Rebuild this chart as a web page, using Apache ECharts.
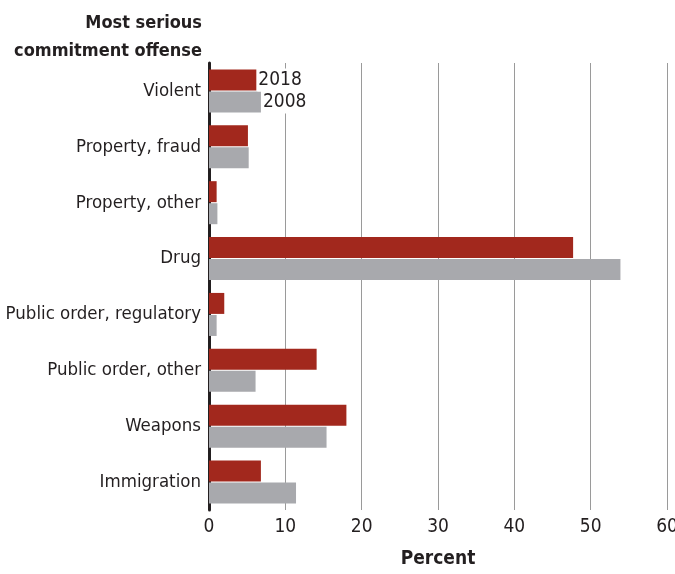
<!DOCTYPE html>
<html>
<head>
<meta charset="utf-8">
<script src="https://cdn.jsdelivr.net/npm/echarts@6/dist/echarts.min.js"></script>
<style>
  html, body { margin: 0; padding: 0; background: #fff; }
  #chart { width: 675px; height: 574px; }
</style>
</head>
<body>
<div id="chart"></div>
<script>
const categories = ['Violent', 'Property, fraud', 'Property, other', 'Drug',
  'Public order, regulatory', 'Public order, other', 'Weapons', 'Immigration']
const values2018 = [6.2, 5.1, 1.0, 47.7, 2.0, 14.1, 18.0, 6.8]
const values2008 = [6.8, 5.2, 1.1, 53.9, 1.0, 6.1, 15.4, 11.4]
const seriesNames = ['2018', '2008']

const font = '"DejaVu Sans Condensed", "DejaVu Sans", sans-serif'
const ink = '#231f20'

// only the first bar of each series carries its year as a label
function withFirstLabel(values) {
  return values.map((v, i) => i === 0 ? {
    value: v,
    label: {
      show: true, position: 'right', distance: 1,
      formatter: '{a}', color: ink, fontFamily: font, fontSize: 19,
      backgroundColor: '#fff', padding: [2, 2, 2, 1]
    }
  } : v)
}

const chart = echarts.init(document.getElementById('chart'), null, { renderer: 'canvas' })
chart.setOption({
  animation: false,
  graphic: [{
    type: 'text',
    x: 202,
    y: 9,
    style: {
      text: 'Most serious\ncommitment offense',
      align: 'right',
      fontFamily: font, fontSize: 18, fontWeight: 'bold', lineHeight: 28, fill: ink
    }
  }],
  grid: { left: 209, right: 8, top: 63, bottom: 64, containLabel: false, outerBoundsMode: 'none' },
  xAxis: {
    type: 'value',
    min: 0,
    max: 60,
    interval: 10,
    name: 'Percent',
    nameLocation: 'middle',
    nameGap: 40,
    nameTextStyle: { fontFamily: font, fontSize: 19, fontWeight: 'bold', color: ink },
    axisLine: { show: false },
    axisTick: { show: false },
    axisLabel: { color: ink, fontFamily: font, fontSize: 19, margin: 8 },
    splitLine: { show: true, lineStyle: { color: '#9a9a9a', width: 1 } }
  },
  yAxis: {
    type: 'category',
    data: categories,
    inverse: true,
    axisLine: { show: true, lineStyle: { color: ink, width: 3 } },
    axisTick: { show: false },
    axisLabel: { color: ink, fontFamily: font, fontSize: 18.5, margin: 8, padding: [4, 0, 0, 0] }
  },
  series: [
    {
      name: seriesNames[0],
      type: 'bar',
      data: withFirstLabel(values2018),
      itemStyle: { color: '#a2281d' },
      barGap: '5%',
      barCategoryGap: '23%'
    },
    {
      name: seriesNames[1],
      type: 'bar',
      data: withFirstLabel(values2008),
      itemStyle: { color: '#a8a9ad' }
    }
  ]
})
</script>
</body>
</html>
